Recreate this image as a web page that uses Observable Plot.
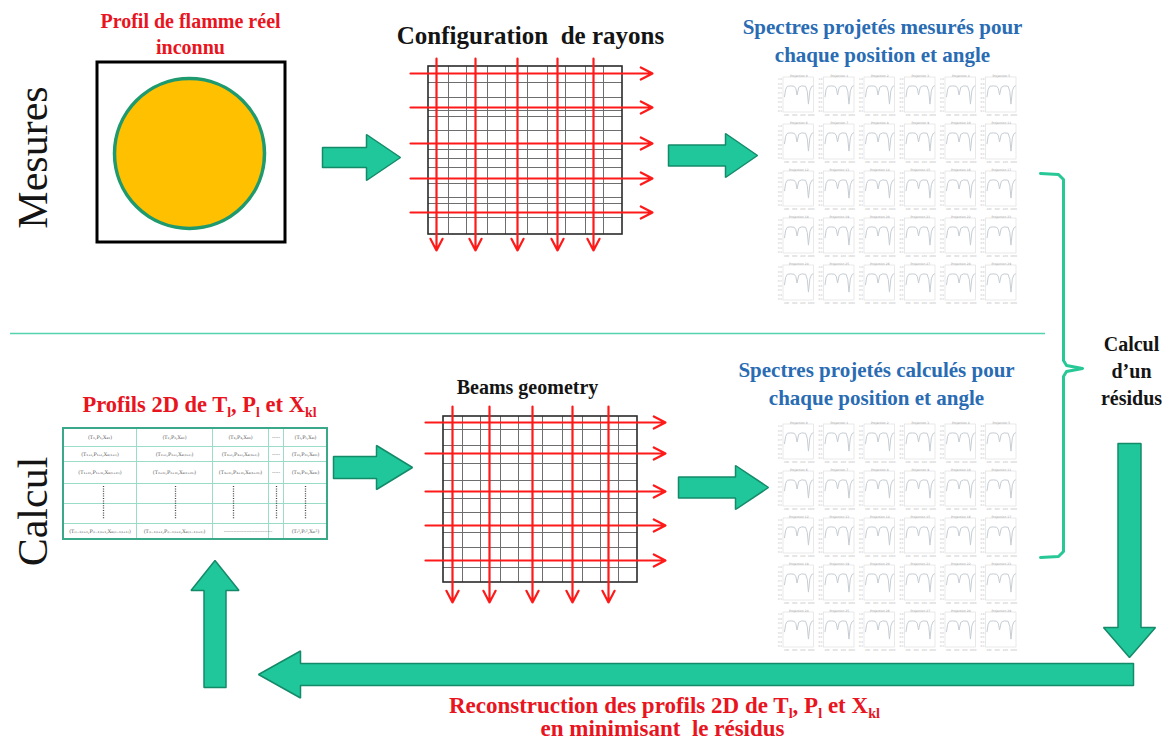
<!DOCTYPE html>
<html><head><meta charset="utf-8">
<script src="https://cdn.jsdelivr.net/npm/d3@7"></script>
<script src="https://cdn.jsdelivr.net/npm/@observablehq/plot@0.6"></script>
<style>
body{margin:0;background:#fff}
#chart svg{display:block;overflow:visible}
#chart svg text{white-space:pre}
</style>
</head><body><div id="chart"></div>
<script>
// ---------------- content ----------------
const sectionLabels = ["Mesures", "Calcul"];
const flameTitle = ["Profil de flamme réel", "inconnu"];
const gridTitles = ["Configuration  de rayons", "Beams geometry"];
const measuredTitle = ["Spectres projetés mesurés pour", "chaque position et angle"];
const computedTitle = ["Spectres projetés calculés pour", "chaque position et angle"];
const residualLabel = ["Calcul", "d’un", "résidus"];
const profileTitle = ["Profils 2D de T_l, P_l et X_kl"];
const reconstructionLabel = ["Reconstruction des profils 2D de T_l, P_l et X_kl", "en minimisant  le résidus"];

// table of profile cells (rows 1-3 and last row)
const tableTextRows = [
  ["(T₁,P₁,Xₖ₁)", "(T₂,P₂,Xₖ₂)", "(T₃,P₃,Xₖ₃)", "-----", "(Tₗ,Pₗ,Xₖₗ)"],
  ["(T₁₊ₗ,P₁₊ₗ,Xₖ₍₁₊ₗ₎)", "(T₂₊ₗ,P₂₊ₗ,Xₖ₍₂₊ₗ₎)", "(T₃₊ₗ,P₃₊ₗ,Xₖ₍₃₊ₗ₎)", "-----", "(T₂ₗ,P₂ₗ,Xₖ₂ₗ)"],
  ["(T₁₊₂ₗ,P₁₊₂ₗ,Xₖ₍₁₊₂ₗ₎)", "(T₂₊₂ₗ,P₂₊₂ₗ,Xₖ₍₂₊₂ₗ₎)", "(T₃₊₂ₗ,P₃₊₂ₗ,Xₖ₍₃₊₂ₗ₎)", "-----", "(T₃ₗ,P₃ₗ,Xₖ₃ₗ)"]
];
const tableLastRow = ["(T₍ₗ₋₁₎ₗ₊₁,P₍ₗ₋₁₎ₗ₊₁,Xₖ₍₍ₗ₋₁₎ₗ₊₁₎)", "(T₍ₗ₋₁₎ₗ₊₂,P₍ₗ₋₁₎ₗ₊₂,Xₖ₍₍ₗ₋₁₎ₗ₊₂₎)", "------------------------------", "(Tₗ²,Pₗ²,Xₖₗ²)"];

// one projected spectrum (fraction of the mini-panel height)
const spectrumX = [0, 0.04, 0.10, 0.22, 0.34, 0.40, 0.44, 0.50, 0.60, 0.74, 0.80, 0.84, 0.89, 0.95, 1.0];
const spectrumY = [0.45, 0.66, 0.75, 0.76, 0.75, 0.68, 0.50, 0.72, 0.76, 0.75, 0.60, 0.24, 0.62, 0.74, 0.76];
const spectrumYTicks = ["1.0", "0.9", "0.8", "0.7", "0.6", "0.5", "0.4", "0.3"];
const spectrumXTicks = ["400", "600", "800", "1000"];

// ---------------- layout ----------------
const W = 1164, H = 740;
const serif = "'Liberation Serif', 'Times New Roman', serif";
const red = "#e8151f", blue = "#2a6cb3", ink = "#141414";
const arrowFill = "#1fc79a", arrowStroke = "#148a69", teal = "#27c896";

const grid1 = {x1: 428, x2: 622, y1: 66, y2: 234,
  vx: [448, 466, 487, 505, 527, 547, 565, 585, 603],
  hy: [82, 97, 110, 116, 130, 149, 158, 167, 183, 197, 203, 217],
  rayY: [73, 107, 143, 178, 212], rayX1: 410, rayX2: 652,
  rayX: [436, 475, 517, 557, 593], rayY1: 58, rayY2: 250};
const grid2 = {x1: 443, x2: 637, y1: 416, y2: 582,
  vx: [462, 480, 500, 518, 542, 562, 582, 600, 618],
  hy: [429, 445, 463, 480, 498, 512, 532, 547, 567],
  rayY: [422, 453, 491, 525, 560], rayX1: 425, rayX2: 665,
  rayX: [452, 489, 532, 572, 608], rayY1: 406, rayY2: 602};

const blockArrows = [
  {id: "a1", x1: 322, y1: 157, x2: 400, y2: 157, s: 10, h: 23, l: 34},
  {id: "a2", x1: 668, y1: 155, x2: 757, y2: 155, s: 10.5, h: 22, l: 32},
  {id: "a3", x1: 333, y1: 467, x2: 412, y2: 467, s: 11, h: 22, l: 36},
  {id: "a4", x1: 678, y1: 487, x2: 768, y2: 487, s: 10.5, h: 22, l: 33},
  {id: "down", x1: 1129, y1: 443, x2: 1129, y2: 657, s: 11.5, h: 26, l: 30},
  {id: "back", x1: 1133, y1: 674, x2: 258, y2: 674, s: 11, h: 23.5, l: 42},
  {id: "up", x1: 214.5, y1: 687, x2: 214.5, y2: 560, s: 11, h: 24, l: 30}
];

function arrowPolygon(a) {
  const dx = a.x2 - a.x1, dy = a.y2 - a.y1, L = Math.hypot(dx, dy);
  const ux = dx / L, uy = dy / L, nx = -uy, ny = ux;
  const bx = a.x2 - ux * a.l, by = a.y2 - uy * a.l;
  const p = [
    [a.x1 + nx * a.s, a.y1 + ny * a.s], [bx + nx * a.s, by + ny * a.s], [bx + nx * a.h, by + ny * a.h],
    [a.x2, a.y2], [bx - nx * a.h, by - ny * a.h], [bx - nx * a.s, by - ny * a.s],
    [a.x1 - nx * a.s, a.y1 - ny * a.s], [a.x1 + nx * a.s, a.y1 + ny * a.s]
  ];
  return p.map(([x, y]) => ({id: a.id, x, y}));
}
const arrowPts = blockArrows.flatMap(arrowPolygon);

const bracketPts = [[1040,173],[1058,174],[1063,179],[1063,360],[1066,365],[1082,368],[1066,371],[1063,376],[1063,551],[1058,556],[1040,557]].map(([x,y]) => ({x, y}));

// spectra mini panels
const panels = [{ox: 774, oy: 68}, {ox: 774, oy: 415}];
const cellW = 40.5, cellH = 47;
const cells = [], curves = [], yTickLabels = [], xTickLabels = [];
panels.forEach((p, pi) => {
  for (let r = 0; r < 5; r++) for (let c = 0; c < 6; c++) {
    const id = `${pi}-${r}-${c}`;
    const x1 = p.ox + c * cellW + 9, x2 = p.ox + (c + 1) * cellW - 1;
    const y1 = p.oy + r * cellH + 9, y2 = p.oy + (r + 1) * cellH - 3;
    cells.push({id, x1, x2, y1, y2, title: `Projection ${r * 6 + c}`, tx: (x1 + x2) / 2, ty: y1 - 1});
    spectrumX.forEach((v, i) => curves.push({id, x: x1 + 1 + v * (x2 - x1 - 2), y: y2 - spectrumY[i] * (y2 - y1)}));
    spectrumYTicks.forEach((t, i) => yTickLabels.push({text: t, x: x1 - 1.5, y: y1 + 2 + i * (y2 - y1 - 3) / (spectrumYTicks.length - 1)}));
    spectrumXTicks.forEach((t, i) => xTickLabels.push({text: t, x: x1 + 3 + i * (x2 - x1 - 6) / (spectrumXTicks.length - 1), y: y2 + 2.5}));
  }
});

// table layout
const tCols = [63, 136, 212, 268, 283, 327];
const tRows = [428, 446, 461, 483, 503, 523, 539];
const tableTexts = [];
tableTextRows.forEach((row, ri) => row.forEach((t, ci) => tableTexts.push({text: t, x: (tCols[ci] + tCols[ci + 1]) / 2, y: (tRows[ri] + tRows[ri + 1]) / 2})));
const lastCenters = [(tCols[0] + tCols[1]) / 2, (tCols[1] + tCols[2]) / 2, (tCols[2] + tCols[4]) / 2, (tCols[4] + tCols[5]) / 2];
tableLastRow.forEach((t, i) => tableTexts.push({text: t, x: lastCenters[i], y: (tRows[5] + tRows[6]) / 2}));
const tableDots = [103, 175, 233, 276, 305];

function rays(g) {
  return [
    ...g.rayY.map(y => ({x1: g.rayX1, x2: g.rayX2, y1: y, y2: y})),
    ...g.rayX.map(x => ({x1: x, x2: x, y1: g.rayY1, y2: g.rayY2}))
  ];
}
function gridMarks(g) {
  return [
    Plot.ruleX(g.vx, {x: d => d, y1: g.y1, y2: g.y2, stroke: "#6e6e6e", strokeWidth: 1}),
    Plot.ruleY(g.hy, {y: d => d, x1: g.x1, x2: g.x2, stroke: "#6e6e6e", strokeWidth: 1}),
    Plot.rect([g], {x1: "x1", x2: "x2", y1: "y1", y2: "y2", fill: "none", stroke: "#2a2a2a", strokeWidth: 1.6}),
    Plot.arrow(rays(g), {x1: "x1", y1: "y1", x2: "x2", y2: "y2", stroke: "#ff1a1a", strokeWidth: 2.2, headLength: 9, headAngle: 55})
  ];
}
const txt = (arr, pos, o) => Plot.text(arr.map((t, i) => ({text: t, x: pos[i][0], y: pos[i][1]})),
  {x: "x", y: "y", text: "text", fontFamily: serif, textAnchor: "middle", lineAnchor: "bottom", ...o});

const plot = Plot.plot({
  width: W, height: H, margin: 0,
  x: {domain: [0, W], range: [0, W], axis: null},
  y: {domain: [0, H], range: [0, H], axis: null},
  marks: [
    // separator between the two halves
    Plot.ruleY([333], {x1: 10, x2: 1045, stroke: "#55d2ae", strokeWidth: 1.5}),
    // section labels
    txt(sectionLabels, [[33, 157], [33, 511]], {rotate: -90, lineAnchor: "middle", fontSize: 42, fill: ink}),
    // unknown flame profile
    Plot.rect([{x1: 97, x2: 285, y1: 62, y2: 242}], {x1: "x1", x2: "x2", y1: "y1", y2: "y2", fill: "none", stroke: "#000", strokeWidth: 3}),
    Plot.dot([{x: 189, y: 153}], {x: "x", y: "y", r: 75, fill: "#ffc000", stroke: "#1e9a6e", strokeWidth: 3.5}),
    // ray grids
    ...gridMarks(grid1),
    ...gridMarks(grid2),
    // block arrows
    Plot.line(arrowPts, {x: "x", y: "y", z: "id", fill: arrowFill, stroke: arrowStroke, strokeWidth: 1.5, strokeLinejoin: "miter"}),
    // bracket
    Plot.line(bracketPts, {x: "x", y: "y", stroke: teal, strokeWidth: 3, strokeLinejoin: "round"}),
    // spectra mini panels
    Plot.rect(cells, {x1: "x1", x2: "x2", y1: "y1", y2: "y2", fill: "none", stroke: "#e0e0e0", strokeWidth: 0.7}),
    Plot.line(curves, {x: "x", y: "y", z: "id", stroke: "#c6cdd3", strokeWidth: 1}),
    Plot.text(cells, {x: "tx", y: "ty", text: "title", fontSize: 3, fill: "#a0a0a0", fontFamily: "DejaVu Sans"}),
    Plot.text(yTickLabels, {x: "x", y: "y", text: "text", fontSize: 2.6, fill: "#bbbbbb", textAnchor: "end", fontFamily: "DejaVu Sans"}),
    Plot.text(xTickLabels, {x: "x", y: "y", text: "text", fontSize: 2.6, fill: "#bbbbbb", fontFamily: "DejaVu Sans"}),
    // profile table
    Plot.ruleY(tRows.slice(1, -1), {y: d => d, x1: tCols[0], x2: tCols[5], stroke: "#9adcc8", strokeWidth: 1}),
    Plot.ruleX(tCols.slice(1, -1), {x: d => d, y1: tRows[0], y2: tRows[6], stroke: "#9adcc8", strokeWidth: 1}),
    Plot.rect([{x1: tCols[0], x2: tCols[5], y1: tRows[0], y2: tRows[6]}], {x1: "x1", x2: "x2", y1: "y1", y2: "y2", fill: "none", stroke: "#3aa98a", strokeWidth: 2}),
    Plot.ruleX(tableDots, {x: d => d, y1: 486, y2: 519, stroke: "#444", strokeWidth: 1.3, strokeDasharray: "1,1.4"}),
    Plot.text(tableTexts, {x: "x", y: "y", text: "text", fontSize: 4.8, fill: "#555", fontFamily: "DejaVu Serif"}),
    // titles
    txt(flameTitle, [[190, 27], [190, 53]], {fontSize: 20, fontWeight: "bold", fill: red}),
    txt([gridTitles[0]], [[530, 43]], {fontSize: 25, fontWeight: "bold", fill: ink}),
    txt([gridTitles[1]], [[527, 393]], {fontSize: 20, fontWeight: "bold", fill: ink}),
    txt(measuredTitle, [[882, 33], [882, 61]], {fontSize: 21, fontWeight: "bold", fill: blue}),
    txt(computedTitle, [[876, 376], [876, 404]], {fontSize: 21, fontWeight: "bold", fill: blue}),
    txt(residualLabel, [[1131, 350], [1131, 377], [1131, 404]], {fontSize: 20, fontWeight: "bold", fill: ink}),
    txt(profileTitle, [[199, 411]], {fontSize: 22.5, fontWeight: "bold", fill: red}),
    txt(reconstructionLabel, [[664, 712], [662, 735]], {fontSize: 23, fontWeight: "bold", fill: red})
  ]
});
document.getElementById("chart").appendChild(plot);

// render "_x" as subscripts
(function applySubscripts(svg) {
  const NS = "http://www.w3.org/2000/svg";
  svg.querySelectorAll("text").forEach(t => {
    const s = t.textContent;
    if (!/_[A-Za-z]/.test(s)) return;
    const fs = parseFloat(getComputedStyle(t).fontSize) || 16;
    while (t.firstChild) t.removeChild(t.firstChild);
    const re = /_([A-Za-z0-9]+)/g;
    let last = 0, m, shifted = false;
    const add = (str, sub) => {
      const ts = document.createElementNS(NS, "tspan");
      ts.textContent = str;
      if (sub) { ts.setAttribute("font-size", (fs * 0.62).toFixed(1)); ts.setAttribute("dy", (fs * 0.22).toFixed(1)); shifted = true; }
      else if (shifted) { ts.setAttribute("dy", (-fs * 0.22).toFixed(1)); shifted = false; }
      t.appendChild(ts);
    };
    while ((m = re.exec(s))) { if (m.index > last) add(s.slice(last, m.index), false); add(m[1], true); last = re.lastIndex; }
    if (last < s.length) add(s.slice(last), false);
  });
})(plot);
</script>
</body></html>
